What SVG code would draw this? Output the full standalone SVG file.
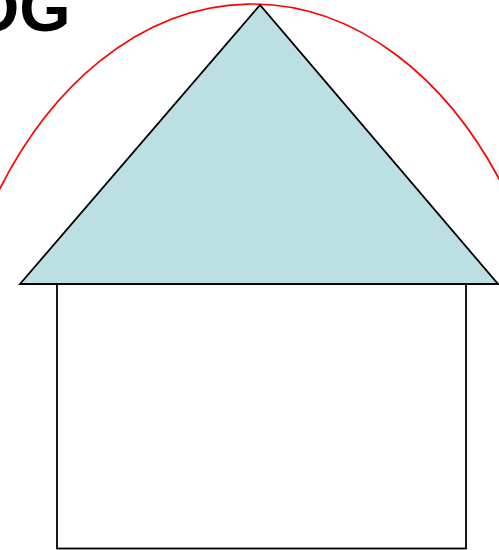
<svg xmlns="http://www.w3.org/2000/svg" width="499" height="550" viewBox="0 0 499 550">
  <style>
    .title { font-family: "Liberation Sans", Arial, sans-serif; font-weight: bold; font-size: 66px; fill: #000; }
    .outline { stroke: #000; stroke-width: 1.8; }
  </style>
  <rect width="499" height="550" fill="#fff"/>
  <text class="title" x="-32" y="31">OG</text>
  <g id="arc">
    <path d="M -2 192.3 A 312 449 0 0 1 501 182.4" fill="none" stroke="#ff0000" stroke-width="1.7"/>
  </g>
  <g id="walls">
    <rect class="outline" x="57" y="284" width="409" height="264.5" fill="#fff"/>
  </g>
  <g id="roof">
    <polygon class="outline" points="260,5 20,284 498,284" fill="#bbdfe3" stroke-linejoin="miter"/>
  </g>
</svg>
